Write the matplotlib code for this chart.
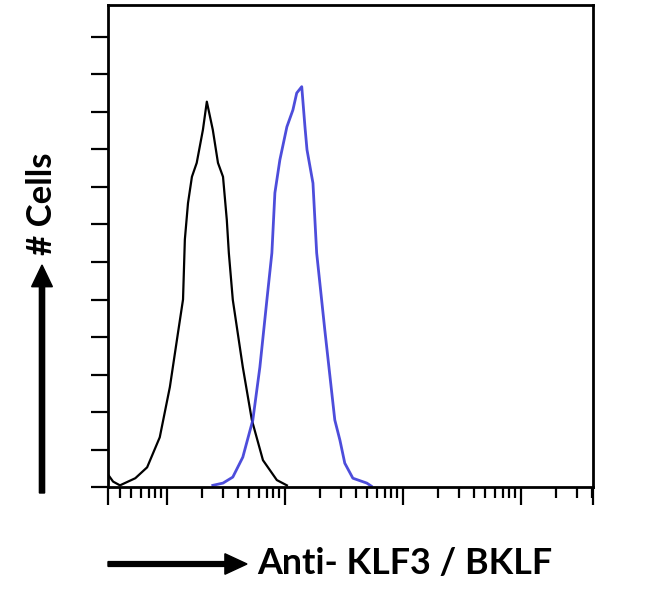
import matplotlib
matplotlib.use("Agg")
import matplotlib.pyplot as plt
from matplotlib.ticker import FixedLocator, LogLocator, NullFormatter

# Isotype / unstained control (black) - intensity vs cell count
control_x = [3.2, 3.5, 4.0, 5.4, 6.8, 8.7, 10.6, 12.4, 13.7, 14.2, 15.1, 16.3,
             17.9, 20.2, 21.8, 24.5, 27.1, 29.9, 32.2, 33.5, 36.2, 44.0, 52.5,
             65.2, 85.5, 104.0]
control_y = [3.2, 1.5, 0.5, 2.4, 5.3, 13.3, 26.7, 41.0, 50.0, 66.0, 75.7, 82.7,
             86.4, 95.2, 102.7, 95.2, 86.4, 82.7, 71.2, 62.4, 49.9, 32.0, 17.9,
             7.2, 1.9, 0.5]

# Anti-KLF3 / BKLF stained sample (blue)
stained_x = [24.5, 29.9, 36.2, 44.0, 53.5, 61.4, 70.4, 77.6, 82.3, 90.7, 104.0,
             117.0, 126.0, 139.0, 148.0, 154.0, 173.0, 186.0, 218.0, 265.0,
             293.0, 322.0, 377.0, 495.0, 540.0]
stained_y = [0.5, 1.1, 2.7, 8.0, 17.9, 32.0, 49.9, 62.4, 78.4, 87.2, 96.0,
             100.5, 105.0, 106.7, 96.0, 89.9, 81.0, 62.4, 41.9, 17.9, 12.5,
             6.4, 2.4, 1.1, 0.3]

x_min, x_max = 10 ** 0.5, 10 ** 4.61
y_max = 128.5

fig = plt.figure(figsize=(6.5, 6.03), dpi=100)
ax = fig.add_axes([0.166, 0.192, 0.746, 0.8])

ax.plot(control_x, control_y, color="black", lw=1.6)
ax.plot(stained_x, stained_y, color="#3a3ad8", lw=2.0, alpha=0.9)

ax.set_xscale("log")
ax.set_xlim(x_min, x_max)
ax.set_ylim(0, y_max)

# x ticks: decades long, log minors short, ticks at both ends too
ax.xaxis.set_major_locator(FixedLocator([x_min, 10, 100, 1000, 10000, x_max]))
ax.xaxis.set_minor_locator(LogLocator(base=10, subs=range(2, 10), numticks=20))
ax.xaxis.set_major_formatter(NullFormatter())
ax.xaxis.set_minor_formatter(NullFormatter())
ax.tick_params(axis="x", which="major", direction="out", length=13, width=1.6)
ax.tick_params(axis="x", which="minor", direction="out", length=8, width=1.6)

ax.set_yticks(range(0, 130, 10))
ax.set_yticklabels([])
ax.tick_params(axis="y", which="major", direction="out", length=12, width=1.6)

for s in ax.spines.values():
    s.set_linewidth(2)

# axis annotations with arrows
fig.add_artist(matplotlib.patches.FancyArrow(
    42 / 650, 1 - 493 / 603, 0, (493 - 265) / 603, width=0.008,
    head_width=0.032, head_length=0.036, length_includes_head=True,
    color="black", transform=fig.transFigure))
fig.text(42 / 650, 1 - 204 / 603, "# Cells", rotation=90, fontsize=25,
         fontweight="bold", family="Lato", ha="center", va="center")

fig.add_artist(matplotlib.patches.FancyArrow(
    108 / 650, 1 - 564 / 603, (247 - 108) / 650, 0, width=0.008,
    head_width=0.034, head_length=0.034, length_includes_head=True,
    color="black", transform=fig.transFigure))
fig.text(257 / 650, 1 - 563 / 603, "Anti- KLF3 / BKLF", fontsize=25.8,
         fontweight="bold", family="Lato", ha="left", va="center")

fig.savefig("out.png", dpi=100)
